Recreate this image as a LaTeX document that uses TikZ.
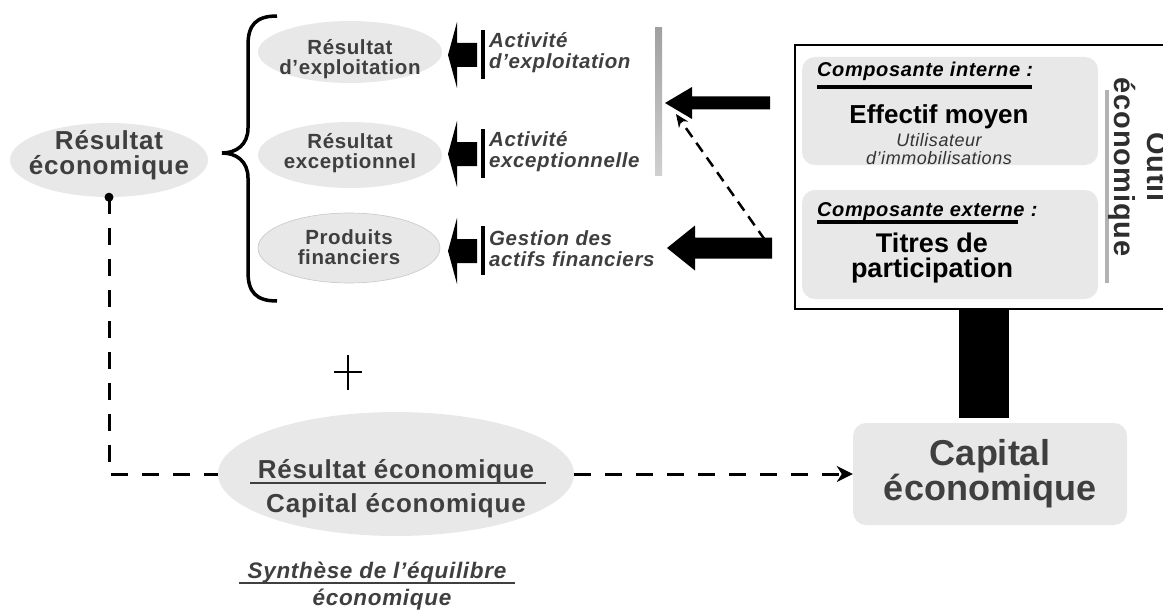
\documentclass[tikz,border=0pt]{standalone}
\usepackage{fontspec}
\setmainfont{Liberation Sans}
\newfontfamily\spaced{Liberation Sans}[LetterSpace=3]
\usetikzlibrary{arrows.meta,shapes.geometric}
\definecolor{pale}{HTML}{E8E8E8}
\definecolor{ink}{HTML}{3F3F3F}
\definecolor{railtop}{HTML}{A0A0A0}
\definecolor{railbot}{HTML}{D0D0D0}
\newcommand\fsz[2]{\fontsize{#1}{#2}\selectfont}
\tikzset{
  blob/.style={ellipse, fill=pale, inner sep=0pt},
  softtext/.style={text=ink, align=center, inner sep=0pt},
  inktext/.style={text=black, align=center, inner sep=0pt},
  panel/.style={fill=pale, rounded corners=13pt, inner sep=0pt},
  dashlink/.style={line width=3pt, dash pattern=on 17pt off 14pt},
  slantlink/.style={line width=2.5pt, dash pattern=on 11pt off 7pt},
}
\begin{document}
\begin{tikzpicture}[x=1pt,y=-1pt]
\useasboundingbox (0,0) rectangle (1163,610);
\clip (0,0) rectangle (1163,610);

% --- left: economic result ---
\node[blob, minimum width=198pt, minimum height=74pt] (re) at (109,160) {};
\node[softtext, font=\spaced\bfseries\fsz{26}{25}] (reT) at (109,155) {Résultat\\économique};

% brace
\draw[line width=3.5pt] (277,16) .. controls (256,16) and (248,25) .. (248,45) -- (248,128)
  .. controls (248,145) and (236,153) .. (222,153)
  .. controls (236,153) and (248,161) .. (248,178) -- (248,272)
  .. controls (248,292) and (256,301) .. (277,301);

% the three components
\node[blob, minimum width=184pt, minimum height=62pt] (ex) at (350,52) {};
\node[softtext, font=\spaced\bfseries\fsz{20.5}{20}] (exT) at (350,59) {Résultat\\d’exploitation};
\node[blob, minimum width=184pt, minimum height=66pt] (ec) at (350,155) {};
\node[softtext, font=\spaced\bfseries\fsz{20.5}{20}] (ecT) at (350,153) {Résultat\\exceptionnel};
\node[blob, draw=black!22, line width=0.6pt, minimum width=182pt, minimum height=70pt] (pf) at (349,248) {};
\node[softtext, font=\spaced\bfseries\fsz{20.5}{20}] (pfT) at (349,247) {Produits\\financiers};

% small block arrows with their bars
\foreach \c in {55,154,251} {
  \fill (448,\c) -- (457,\c-33) -- (457,\c-12) -- (477,\c-12) -- (477,\c+12)
        -- (457,\c+12) -- (457,\c+33) -- cycle;
  \fill (481,\c-25) rectangle (485,\c+24);
}
\node[softtext, align=left, anchor=west, font=\spaced\bfseries\itshape\fsz{20.5}{21}] (a1) at (489,52.5) {Activité\\d’exploitation};
\node[softtext, align=left, anchor=west, font=\spaced\bfseries\itshape\fsz{20.5}{21}] (a2) at (489,152) {Activité\\exceptionnelle};
\node[softtext, align=left, anchor=west, font=\spaced\bfseries\itshape\fsz{20.5}{21}] (a3) at (489,249) {Gestion des\\actifs financiers};

% grey rail
\shade[top color=railtop, bottom color=railbot] (655,28) rectangle (662,175);

% big block arrows
\fill (665,103) -- (692,87) -- (692,96.5) -- (770,96.5) -- (770,109.5) -- (692,109.5) -- (692,119) -- cycle;
\fill (667,248) -- (695,225.5) -- (695,237.5) -- (772,237.5) -- (772,258.5) -- (695,258.5) -- (695,270.5) -- cycle;
\coordinate (dstart) at (765,240);
\coordinate (dend) at (676,114);
\draw[slantlink, -{Stealth[length=13pt,width=11pt,inset=4pt]}] (dstart) -- (dend);

% --- right: economic tool ---
\node[draw, line width=2.5pt, minimum width=385pt, minimum height=264pt, inner sep=0pt] (tool) at (987.5,177) {};
\node[panel, minimum width=296pt, minimum height=108pt] (intern) at (950,111) {};
\node[panel, minimum width=296pt, minimum height=109pt] (extern) at (950,244.5) {};

\node[inktext, anchor=base west, font=\spaced\bfseries\itshape\fsz{20}{21}] (ciT) at (817,77) {Composante interne :};
\fill (817,85) rectangle (1032,89);
\node[inktext, anchor=base, font=\bfseries\fsz{26}{28}] (emT) at (939,123) {Effectif moyen};
\node[softtext, text=black!80, font=\spaced\itshape\fsz{18}{17.5}] (utT) at (939,149) {Utilisateur\\d’immobilisations};

\node[inktext, anchor=base west, font=\spaced\bfseries\itshape\fsz{20}{21}] (ceT) at (817,216) {Composante externe :};
\fill (817,220) rectangle (1018,224);
\node[inktext, font=\bfseries\fsz{27}{25}] (tpT) at (932,258) {Titres de\\participation};

\draw[line width=4pt, color=black!30] (1107,90) -- (1107,283);
\node[softtext, text=black!82, rotate=-90, font=\spaced\bfseries\fsz{29}{33}] (outil) at (1138,167) {Outil\\économique};

% --- bottom: capital and synthesis ---
\node[panel, minimum width=274pt, minimum height=102pt, text=ink, align=center, font=\bfseries\fsz{36}{35}] (cap) at (990,474) {Capital\\économique};
\coordinate (pillar) at (984,0);
\draw[line width=50pt, shorten >=5pt] (tool.south -| pillar) -- (cap.north -| pillar);

\node[blob, minimum width=356pt, minimum height=124pt] (ratio) at (396,474) {};
\node[softtext, anchor=base, font=\spaced\bfseries\fsz{26}{26}] (num) at (396,478) {Résultat économique};
\draw[line width=2pt, color=ink] (250,483) -- (546,483);
\node[softtext, anchor=base, font=\spaced\bfseries\fsz{26}{26}] (den) at (396,512) {Capital économique};

\draw[line width=2.8pt] (348,355) -- (348,390);
\draw[line width=2.8pt] (334,372) -- (362,372);

\node[softtext, anchor=base, font=\spaced\bfseries\itshape\fsz{22.5}{24}] (syn1) at (377,578) {Synthèse de l’équilibre};
\draw[line width=2pt, color=ink] (239,583) -- (515,583);
\node[softtext, anchor=base, font=\spaced\bfseries\itshape\fsz{22.5}{24}] (syn2) at (382,605) {économique};

% dashed links
\draw[dashlink] (re.south) |- (ratio.west);
\draw[dashlink, -{Stealth[length=16pt,width=16pt,inset=5pt]}] (ratio.east) -- (cap.west);
\fill (re.south) circle (4.5pt);
\end{tikzpicture}
\end{document}
